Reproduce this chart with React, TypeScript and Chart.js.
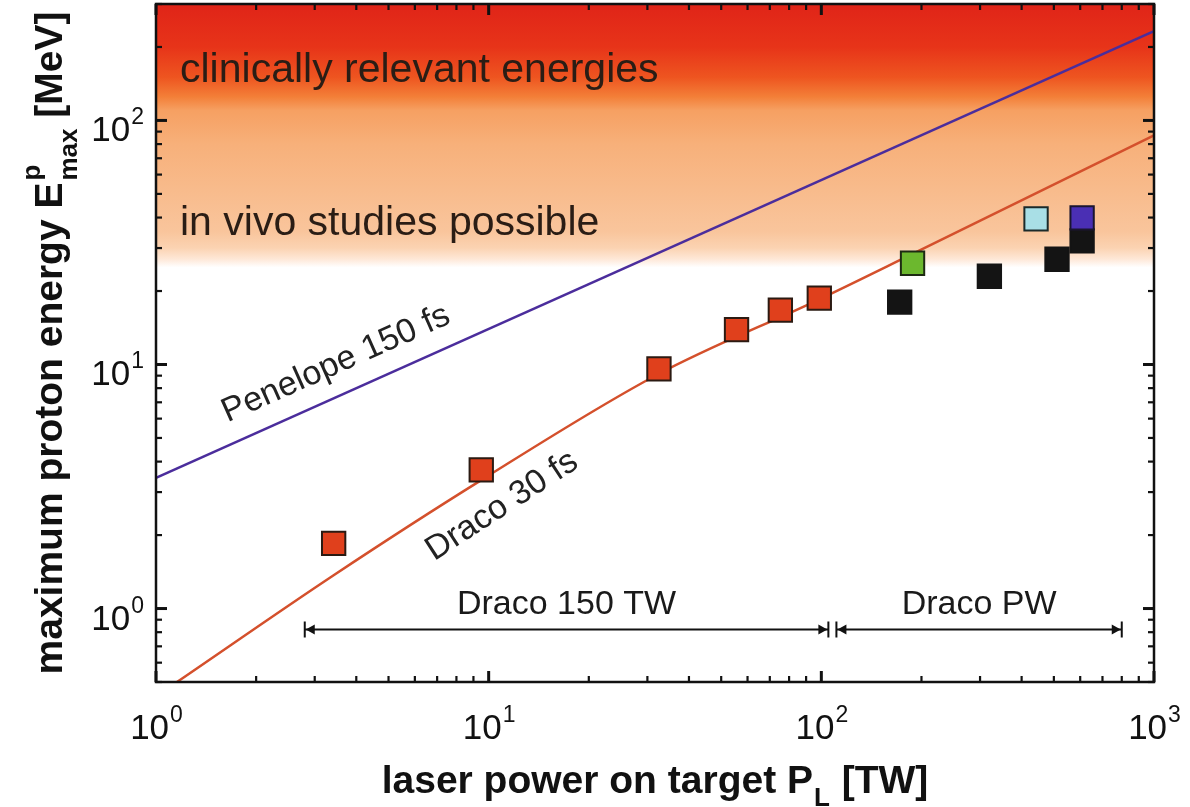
import React, { useEffect, useRef } from 'react';
import { Chart, registerables } from 'chart.js';

Chart.register(...registerables);

// ---------------- data ----------------
const draco150Power = [3.42, 9.5, 32.5, 55.6, 75.3, 98.6];
const draco150Energy = [1.85, 3.7, 9.6, 13.9, 16.7, 18.7];
const greenPower = [188];
const greenEnergy = [26.0];
const blackPower = [172, 320, 511, 608];
const blackEnergy = [18.0, 23.0, 27.0, 32.1];
const cyanPower = [442];
const cyanEnergy = [39.5];
const bluePower = [608];
const blueEnergy = [39.9];

const penelopeCurvePower = [1, 1000];
const penelopeCurveEnergy = [3.43, 232];
const dracoCurvePower = [1.156, 3.42, 9.5, 32.2, 98.6, 188, 1000];
const dracoCurveEnergy = [0.5, 1.37, 3.36, 9.1, 18.5, 28.4, 86.8];

const xTickValues = [1, 10, 100, 1000];
const xTickExponents = ['0', '1', '2', '3'];
const yTickValues = [1, 10, 100];
const yTickExponents = ['0', '1', '2'];

const rangeLabels = ['Draco 150 TW', 'Draco PW'];
const rangeFrom = [2.8, 111];
const rangeTo = [105, 800];
const rangeEnergy = 0.82;

const bandEnergy = [300, 200, 150, 125, 110, 80, 35, 30, 27, 25];
const bandColors = ['#e02418', '#e73419', '#ee5520', '#f37f38', '#f6a062', '#f7b07a', '#f9c59c', '#fbd3b2', '#fee8d8', '#ffffff'];

const FONT = '"Liberation Sans", Arial, Helvetica, sans-serif';

const pts = (xs: number[], ys: number[]) => xs.map((x, i) => ({ x, y: ys[i] }));

const decorPlugin = {
  id: 'decor',
  beforeDatasetsDraw(chart: any) {
    const { ctx, chartArea } = chart;
    const { left, top, right, bottom } = chartArea;
    const ys = chart.scales.y;
    const g = ctx.createLinearGradient(0, top, 0, bottom);
    bandEnergy.forEach((e, i) => {
      const py = ys.getPixelForValue(e);
      const off = Math.min(1, Math.max(0, (py - top) / (bottom - top)));
      g.addColorStop(off, bandColors[i]);
    });
    g.addColorStop(1, '#ffffff');
    ctx.save();
    ctx.fillStyle = g;
    ctx.fillRect(left, top, right - left, bottom - top);
    ctx.restore();
  },
  afterDatasetsDraw(chart: any) {
    const { ctx } = chart;
    const xs = chart.scales.x;
    const ys = chart.scales.y;
    ctx.save();
    ctx.fillStyle = '#2a1d15';
    ctx.textBaseline = 'alphabetic';
    ctx.textAlign = 'left';
    ctx.font = `41px ${FONT}`;
    ctx.fillText('clinically relevant energies', 180, 82);
    ctx.fillText('in vivo studies possible', 180, 235);

    ctx.fillStyle = '#222';
    ctx.font = `34px ${FONT}`;
    ctx.textAlign = 'center';
    ctx.textBaseline = 'middle';
    ctx.save();
    ctx.translate(336, 364);
    ctx.rotate((-24 * Math.PI) / 180);
    ctx.fillText('Penelope 150 fs', 0, 0);
    ctx.restore();
    ctx.save();
    ctx.translate(502, 506);
    ctx.rotate((-33 * Math.PI) / 180);
    ctx.fillText('Draco 30 fs', 0, 0);
    ctx.restore();

    // range arrows
    const py = ys.getPixelForValue(rangeEnergy);
    ctx.strokeStyle = '#111';
    ctx.fillStyle = '#111';
    ctx.lineWidth = 2;
    rangeLabels.forEach((lab, i) => {
      const x1 = xs.getPixelForValue(rangeFrom[i]);
      const x2 = xs.getPixelForValue(rangeTo[i]);
      ctx.beginPath();
      ctx.moveTo(x1, py);
      ctx.lineTo(x2, py);
      ctx.moveTo(x1, py - 8);
      ctx.lineTo(x1, py + 8);
      ctx.moveTo(x2, py - 8);
      ctx.lineTo(x2, py + 8);
      ctx.stroke();
      ctx.beginPath();
      ctx.moveTo(x1 + 1, py);
      ctx.lineTo(x1 + 10, py - 5);
      ctx.lineTo(x1 + 10, py + 5);
      ctx.closePath();
      ctx.moveTo(x2 - 1, py);
      ctx.lineTo(x2 - 10, py - 5);
      ctx.lineTo(x2 - 10, py + 5);
      ctx.closePath();
      ctx.fill();
      ctx.font = `34px ${FONT}`;
      ctx.textAlign = 'center';
      ctx.textBaseline = 'alphabetic';
      ctx.fillStyle = '#1a1a1a';
      ctx.fillText(lab, (x1 + x2) / 2, py - 16);
      ctx.fillStyle = '#111';
    });
    ctx.restore();
  },
  afterDraw(chart: any) {
    const { ctx, chartArea } = chart;
    const { left, top, right, bottom } = chartArea;
    const xs = chart.scales.x;
    const ys = chart.scales.y;
    ctx.save();
    ctx.strokeStyle = '#111';
    ctx.fillStyle = '#111';
    // frame
    ctx.lineWidth = 2.5;
    ctx.strokeRect(left, top, right - left, bottom - top);

    const tick = (x1: number, y1: number, x2: number, y2: number, w: number) => {
      ctx.lineWidth = w;
      ctx.beginPath();
      ctx.moveTo(x1, y1);
      ctx.lineTo(x2, y2);
      ctx.stroke();
    };
    // x ticks
    for (let d = 1; d <= 1000; d *= 10) {
      for (let m = 1; m <= 9; m++) {
        const v = m * d;
        if (v < 1 || v > 1000) continue;
        const px = xs.getPixelForValue(v);
        const major = m === 1;
        const len = major ? 11 : 6;
        const w = major ? 3 : 2.2;
        tick(px, bottom, px, bottom - len, w);
        tick(px, top, px, top + len, w);
      }
    }
    // y ticks
    for (let d = 0.1; d <= 100.5; d *= 10) {
      for (let m = 1; m <= 9; m++) {
        const v = m * d;
        if (v < 0.5 || v > 300) continue;
        const py = ys.getPixelForValue(v);
        const major = m === 1;
        const len = major ? 11 : 6;
        const w = major ? 3 : 2.2;
        tick(left, py, left + len, py, w);
        tick(right, py, right - len, py, w);
      }
    }

    // tick labels
    ctx.fillStyle = '#111';
    ctx.textBaseline = 'alphabetic';
    ctx.textAlign = 'left';
    xTickValues.forEach((v, i) => {
      const px = xs.getPixelForValue(v);
      ctx.font = `35px ${FONT}`;
      const w1 = ctx.measureText('10').width;
      ctx.font = `23px ${FONT}`;
      const w2 = ctx.measureText(xTickExponents[i]).width;
      const sx = px - (w1 + w2) / 2;
      ctx.font = `35px ${FONT}`;
      ctx.fillText('10', sx, bottom + 57);
      ctx.font = `23px ${FONT}`;
      ctx.fillText(xTickExponents[i], sx + w1 + 1, bottom + 40);
    });
    yTickValues.forEach((v, i) => {
      const py = ys.getPixelForValue(v);
      ctx.font = `23px ${FONT}`;
      const w2 = ctx.measureText(yTickExponents[i]).width;
      ctx.textAlign = 'right';
      ctx.fillText(yTickExponents[i], left - 12, py + 4);
      ctx.font = `35px ${FONT}`;
      ctx.fillText('10', left - 13 - w2, py + 21);
    });

    // x title
    ctx.textAlign = 'left';
    const big = `bold 39px ${FONT}`;
    const small = `bold 26px ${FONT}`;
    const xt1 = 'laser power on target P';
    const xt2 = 'L';
    const xt3 = ' [TW]';
    ctx.font = big;
    const a1 = ctx.measureText(xt1).width;
    const a3 = ctx.measureText(xt3).width;
    ctx.font = small;
    const a2 = ctx.measureText(xt2).width;
    const cx = (left + right) / 2;
    const sx = cx - (a1 + a2 + a3 + 2) / 2;
    const by = 793;
    ctx.font = big;
    ctx.fillText(xt1, sx, by);
    ctx.font = small;
    ctx.fillText(xt2, sx + a1 + 1, by + 13);
    ctx.font = big;
    ctx.fillText(xt3, sx + a1 + a2 + 2, by);

    // y title
    const yt1 = 'maximum proton energy E';
    const ytSup = 'p';
    const ytSub = 'max';
    const yt3 = ' [MeV]';
    ctx.font = big;
    const b1 = ctx.measureText(yt1).width;
    const b3 = ctx.measureText(yt3).width;
    ctx.font = small;
    const bSup = ctx.measureText(ytSup).width;
    const bSub = ctx.measureText(ytSub).width;
    const bMid = Math.max(bSup, bSub);
    const total = b1 + bMid + b3 + 2;
    ctx.save();
    ctx.translate(62, 343);
    ctx.rotate(-Math.PI / 2);
    const tx = -total / 2;
    ctx.font = big;
    ctx.fillText(yt1, tx, 0);
    ctx.font = small;
    ctx.fillText(ytSup, tx + b1 + 2, -22);
    ctx.fillText(ytSub, tx + b1 + 2, 15);
    ctx.font = big;
    ctx.fillText(yt3, tx + b1 + bMid + 2, 0);
    ctx.restore();

    ctx.restore();
  },
};

export default function App() {
  const ref = useRef<HTMLCanvasElement | null>(null);
  useEffect(() => {
    const canvas = ref.current;
    if (!canvas) return;
    const sq = (color: string, border: string) => ({
      showLine: false,
      pointStyle: 'rect',
      pointRadius: 16.5,
      pointHoverRadius: 16.5,
      backgroundColor: color,
      borderColor: border,
      borderWidth: 2,
    });
    const chart = new Chart(canvas, {
      type: 'scatter',
      data: {
        datasets: [
          { label: 'Draco 150 TW', data: pts(draco150Power, draco150Energy), ...sq('#e0401c', '#2b1a12'), order: 2 } as any,
          { label: 'Draco PW (green)', data: pts(greenPower, greenEnergy), ...sq('#6cb82e', '#1d2a12'), order: 2 } as any,
          { label: 'Draco PW', data: pts(blackPower, blackEnergy), ...sq('#141414', '#141414'), order: 2 } as any,
          { label: 'Draco PW (cyan)', data: pts(cyanPower, cyanEnergy), ...sq('#a9dfe6', '#1b2a2a'), order: 1 } as any,
          { label: 'Draco PW (blue)', data: pts(bluePower, blueEnergy), ...sq('#4a2fb4', '#1a1530'), order: 1 } as any,
          {
            label: 'Penelope 150 fs',
            data: pts(penelopeCurvePower, penelopeCurveEnergy),
            showLine: true,
            borderColor: '#4b2d9c',
            borderWidth: 2.5,
            pointRadius: 0,
            order: 5,
          } as any,
          {
            label: 'Draco 30 fs',
            data: pts(dracoCurvePower, dracoCurveEnergy),
            showLine: true,
            borderColor: '#d4502c',
            borderWidth: 2.5,
            pointRadius: 0,
            cubicInterpolationMode: 'monotone',
            order: 5,
          } as any,
        ],
      },
      options: {
        responsive: false,
        animation: false,
        devicePixelRatio: 1,
        events: [],
        layout: { autoPadding: false, padding: { left: 156, top: 4, right: 36, bottom: 125 } },
        scales: {
          x: { type: 'logarithmic', min: 1, max: 1000, display: false },
          y: { type: 'logarithmic', min: 0.5, max: 300, display: false },
        },
        plugins: {
          legend: { display: false },
          tooltip: { enabled: false },
        },
      } as any,
      plugins: [decorPlugin],
    });
    return () => chart.destroy();
  }, []);
  return (
    <div style={{ position: 'fixed', left: 0, top: 0, width: 1190, height: 807, background: '#ffffff' }}>
      <canvas ref={ref} width={1190} height={807} style={{ display: 'block', width: 1190, height: 807 }} />
    </div>
  );
}
